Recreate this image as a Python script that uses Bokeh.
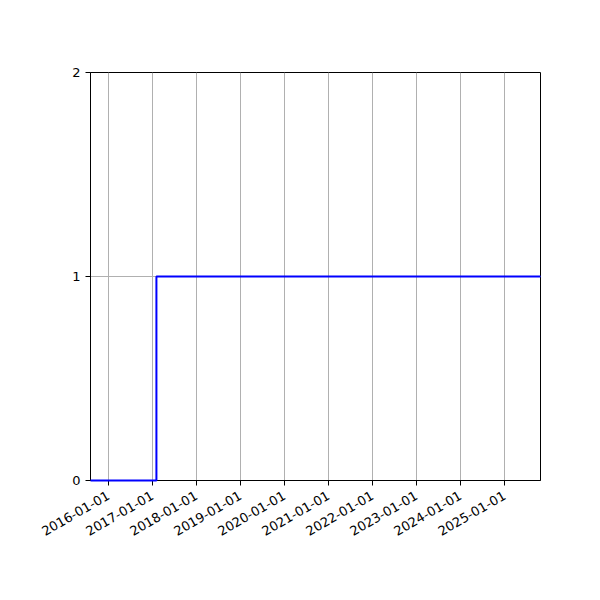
from math import pi

import pandas as pd
from bokeh.embed import file_html
from bokeh.models import DatetimeTickFormatter, FixedTicker, Range1d
from bokeh.plotting import figure
from bokeh.resources import INLINE

# step series
dates = ["2015-08-06", "2017-02-03", "2025-10-26"]
values = [0, 1, 1]
tick_dates = ["2016-01-01", "2017-01-01", "2018-01-01", "2019-01-01", "2020-01-01",
              "2021-01-01", "2022-01-01", "2023-01-01", "2024-01-01", "2025-01-01"]
y_ticks = [0, 1, 2]

x = pd.to_datetime(dates)
x_ticks = [t.value / 1e6 for t in pd.to_datetime(tick_dates)]

p = figure(width=584, height=584, x_axis_type="datetime", output_backend="svg",
           toolbar_location=None,
           x_range=Range1d(x[0], x[-1]), y_range=Range1d(0, 2),
           min_border_left=90, min_border_right=44, min_border_top=72, min_border_bottom=104)

r = p.step(x, values, mode="after", line_color="#0000ff", line_width=2)
r.level = "overlay"

p.xaxis.ticker = FixedTicker(ticks=x_ticks)
fmt = "%Y-%m-%d"
p.xaxis.formatter = DatetimeTickFormatter(years=fmt, months=fmt, days=fmt, hours=fmt,
                                          minutes=fmt, seconds=fmt, milliseconds=fmt)
p.xaxis.major_label_orientation = pi / 6
p.xaxis.major_label_standoff = 9
p.yaxis.ticker = FixedTicker(ticks=y_ticks)

for ax in (p.xaxis, p.yaxis):
    ax.major_label_text_font = "DejaVu Sans"
    ax.major_label_text_font_size = "13px"
    ax.major_label_text_color = "black"
    ax.axis_line_color = "black"
    ax.major_tick_line_color = "black"
    ax.major_tick_in = 0
    ax.major_tick_out = 5
    ax.minor_tick_line_color = None

p.xgrid.grid_line_color = "#b0b0b0"
p.ygrid.grid_line_color = "#b0b0b0"
p.xgrid.grid_line_width = 1
p.ygrid.grid_line_width = 1
p.outline_line_color = "black"
p.outline_line_alpha = 1
p.outline_line_width = 1

open("out.html", "w").write(file_html(p, INLINE))
